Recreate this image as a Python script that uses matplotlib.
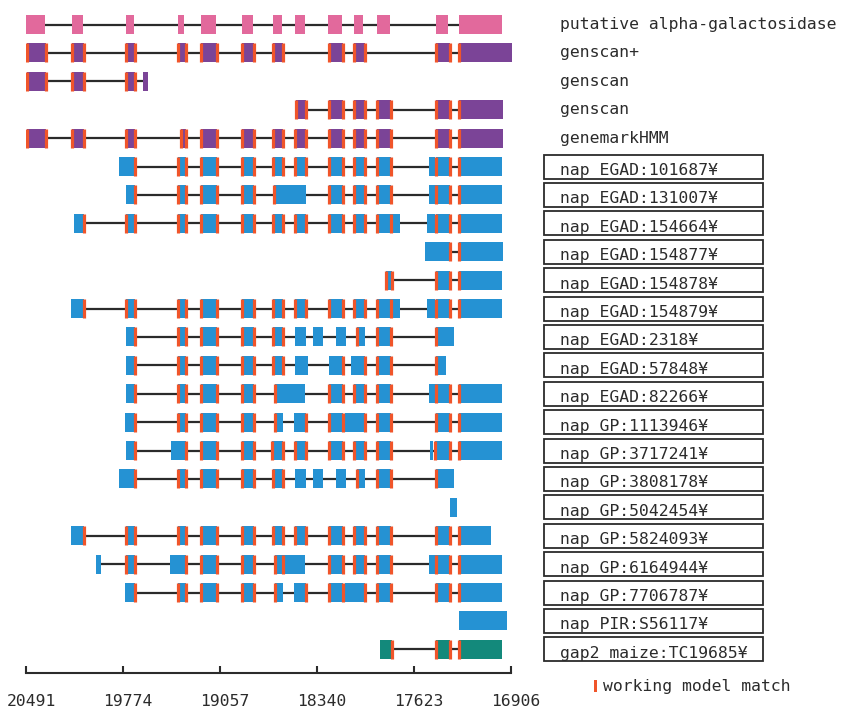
import matplotlib.pyplot as plt
from matplotlib.patches import Rectangle
from matplotlib import transforms

# track labels, top to bottom
track_names = [
    "putative alpha-galactosidase", "genscan+", "genscan", "genscan", "genemarkHMM",
    "nap EGAD:101687¥", "nap EGAD:131007¥", "nap EGAD:154664¥", "nap EGAD:154877¥",
    "nap EGAD:154878¥", "nap EGAD:154879¥", "nap EGAD:2318¥", "nap EGAD:57848¥",
    "nap EGAD:82266¥", "nap GP:1113946¥", "nap GP:3717241¥", "nap GP:3808178¥",
    "nap GP:5042454¥", "nap GP:5824093¥", "nap GP:6164944¥", "nap GP:7706787¥",
    "nap PIR:S56117¥", "gap2 maize:TC19685¥",
]
track_kinds = ["model"] + ["pred"] * 4 + ["est"] * 17 + ["maize"]

# exons as (start bp, end bp, working-model match at left/right edge)
exons = [
    [(20492, 20347, ""), (20149, 20073, ""), (19754, 19690, ""), (19367, 19322, ""),
     (19194, 19085, ""), (18894, 18812, ""), (18664, 18601, ""), (18502, 18430, ""),
     (18257, 18155, ""), (18069, 17998, ""), (17896, 17799, ""), (17463, 17369, ""),
     (17290, 16972, "")],
    [(20484, 20340, "lr"), (20150, 20065, "lr"), (19755, 19685, "lr"), (19365, 19310, "lr"),
     (19195, 19080, "lr"), (18895, 18805, "lr"), (18665, 18595, "lr"), (18250, 18150, "lr"),
     (18070, 17985, "lr"), (17460, 17360, "lr"), (17290, 16896, "l")],
    [(20484, 20340, "lr"), (20150, 20065, "lr"), (19755, 19685, "lr"), (19627, 19589, "")],
    [(18494, 18423, "lr"), (18250, 18150, "lr"), (18070, 17985, "lr"), (17895, 17795, "lr"),
     (17460, 17360, "lr"), (17290, 16962, "l")],
    [(20484, 20340, "lr"), (20150, 20065, "lr"), (19755, 19685, "lr"), (19342, 19310, "lr"),
     (19195, 19080, "lr"), (18895, 18805, "lr"), (18665, 18595, "lr"), (18500, 18425, "lr"),
     (18250, 18150, "lr"), (18070, 17985, "lr"), (17895, 17795, "lr"), (17460, 17360, "lr"),
     (17290, 16965, "l")],
    # nap EGAD:101687
    [(19800, 19685, "r"), (19365, 19310, "lr"), (19195, 19080, "lr"), (18895, 18805, "lr"),
     (18665, 18595, "lr"), (18500, 18425, "lr"), (18250, 18150, "lr"), (18070, 17985, "lr"),
     (17895, 17795, "lr"), (17514, 17471, ""), (17460, 17360, "lr"), (17290, 16974, "l")],
    # nap EGAD:131007
    [(19755, 19685, "r"), (19365, 19310, "lr"), (19195, 19080, "lr"), (18895, 18805, "lr"),
     (18659, 18418, "l"), (18250, 18150, "lr"), (18070, 17985, "lr"), (17895, 17795, "lr"),
     (17514, 17460, ""), (17460, 17360, "lr"), (17290, 16974, "l")],
    # nap EGAD:154664
    [(20136, 20059, "r"), (19755, 19685, "lr"), (19365, 19310, "lr"), (19195, 19080, "lr"),
     (18895, 18805, "lr"), (18665, 18595, "lr"), (18500, 18425, "lr"), (18250, 18150, "lr"),
     (18070, 17985, "lr"), (17895, 17795, "lr"), (17795, 17730, ""), (17527, 17471, ""),
     (17460, 17360, "lr"), (17290, 16974, "l")],
    # nap EGAD:154877
    [(17539, 17360, "r"), (17290, 16966, "l")],
    # nap EGAD:154878
    [(17832, 17786, "lr"), (17460, 17360, "lr"), (17290, 16974, "l")],
    # nap EGAD:154879
    [(20161, 20059, "r"), (19755, 19685, "lr"), (19365, 19310, "lr"), (19195, 19080, "lr"),
     (18895, 18805, "lr"), (18665, 18595, "lr"), (18500, 18425, "lr"), (18250, 18150, "lr"),
     (18070, 17985, "lr"), (17895, 17795, "lr"), (17795, 17730, ""), (17527, 17471, ""),
     (17460, 17360, "lr"), (17290, 16974, "l")],
    # nap EGAD:2318
    [(19755, 19685, "r"), (19365, 19310, "lr"), (19195, 19080, "lr"), (18895, 18805, "lr"),
     (18665, 18595, "lr"), (18502, 18420, ""), (18367, 18296, ""), (18202, 18126, ""),
     (18041, 17985, "l"), (17895, 17795, "lr"), (17460, 17328, "l")],
    # nap EGAD:57848
    [(19755, 19685, "r"), (19365, 19310, "lr"), (19195, 19080, "lr"), (18895, 18805, "lr"),
     (18665, 18595, "lr"), (18502, 18410, ""), (18250, 18150, "r"), (18087, 17985, "r"),
     (17895, 17795, "lr"), (17460, 17387, "l")],
    # nap EGAD:82266
    [(19755, 19685, "r"), (19365, 19310, "lr"), (19195, 19080, "lr"), (18895, 18805, "lr"),
     (18647, 18430, "l"), (18250, 18150, "lr"), (18070, 17985, "lr"), (17895, 17795, "lr"),
     (17514, 17460, ""), (17460, 17360, "lr"), (17290, 16974, "l")],
    # nap GP:1113946
    [(19761, 19685, "r"), (19365, 19310, "lr"), (19195, 19080, "lr"), (18895, 18805, "lr"),
     (18647, 18591, "l"), (18512, 18425, "r"), (18250, 18150, "lr"), (18133, 17985, "r"),
     (17895, 17795, "lr"), (17460, 17360, "lr"), (17290, 16972, "l")],
    # nap GP:3717241
    [(19755, 19685, "r"), (19418, 19310, "r"), (19195, 19080, "lr"), (18895, 18805, "lr"),
     (18673, 18595, "lr"), (18500, 18425, "lr"), (18250, 18150, "lr"), (18070, 17985, "lr"),
     (17895, 17795, "lr"), (17502, 17486, ""), (17468, 17360, "lr"), (17290, 16974, "l")],
    # nap GP:3808178
    [(19800, 19685, "r"), (19365, 19310, "lr"), (19195, 19080, "lr"), (18895, 18805, "lr"),
     (18665, 18595, "lr"), (18502, 18423, ""), (18367, 18296, ""), (18202, 18126, ""),
     (18041, 17985, "l"), (17895, 17795, "lr"), (17460, 17328, "l")],
    # nap GP:5042454
    [(17354, 17303, "")],
    # nap GP:5824093
    [(20161, 20059, "r"), (19755, 19685, "lr"), (19365, 19310, "lr"), (19195, 19080, "lr"),
     (18895, 18805, "lr"), (18665, 18595, "lr"), (18500, 18425, "lr"), (18250, 18150, "lr"),
     (18070, 17985, "lr"), (17895, 17795, "lr"), (17460, 17360, "lr"), (17290, 17056, "l")],
    # nap GP:6164944
    [(19971, 19940, ""), (19755, 19685, "lr"), (19423, 19310, "r"), (19195, 19080, "lr"),
     (18895, 18805, "lr"), (18647, 18595, "lr"), (18595, 18430, ""), (18250, 18150, "lr"),
     (18070, 17985, "lr"), (17895, 17795, "lr"), (17514, 17460, ""), (17460, 17360, "lr"),
     (17290, 16974, "l")],
    # nap GP:7706787
    [(19761, 19685, "r"), (19365, 19310, "lr"), (19195, 19080, "lr"), (18895, 18805, "lr"),
     (18647, 18591, "l"), (18512, 18425, "r"), (18250, 18150, "lr"), (18133, 17985, "r"),
     (17895, 17795, "lr"), (17460, 17360, "lr"), (17290, 16972, "l")],
    # nap PIR:S56117
    [(17290, 16936, "")],
    # gap2 maize:TC19685
    [(17871, 17786, "r"), (17460, 17360, "lr"), (17290, 16974, "l")],
]

axis_ticks = [20491, 19774, 19057, 18340, 17623, 16906]

kind_colors = {"model": "#e2699c", "pred": "#7b4497", "est": "#2592d3", "maize": "#13897b"}
match_color = "#f0552a"
ink = "#2b2b2b"
mono = "DejaVu Sans Mono"

W, H = 842, 709
fig = plt.figure(figsize=(W / 100, H / 100), dpi=100)
ax = fig.add_axes([26 / W, (H - 673) / H, 485 / W, 673 / H])
ax.set_xlim(axis_ticks[0], axis_ticks[-1])
ax.set_ylim((673 - 24.5) / 28.4, -24.5 / 28.4)

h = 0.67  # exon height in track units
for i, track in enumerate(exons):
    col = kind_colors[track_kinds[i]]
    lo = min(e for s, e, m in track)
    hi = max(s for s, e, m in track)
    ax.hlines(i, hi, lo, color=ink, lw=1.6, zorder=1)
    for s, e, m in track:
        ax.add_patch(Rectangle((e, i - h / 2), s - e, h, fc=col, ec="none",
                               zorder=2, clip_on=False))
        if "l" in m:
            ax.vlines(s, i - h / 2, i + h / 2, color=match_color, lw=2.3, zorder=3)
        if "r" in m:
            ax.vlines(e, i - h / 2, i + h / 2, color=match_color, lw=2.3, zorder=3)

# labels on the right
blend = transforms.blended_transform_factory(fig.transFigure, ax.transData)
for i, name in enumerate(track_names):
    if track_kinds[i] in ("est", "maize"):
        ax.add_patch(Rectangle((544 / W, i - 0.42), 219 / W, 0.845, transform=blend,
                               fill=False, ec=ink, lw=1.3, clip_on=False))
        ax.text(560 / W, i + 0.14, name, transform=blend, family=mono, fontsize=11.8,
                color=ink, va="center", ha="left")
    else:
        ax.text(560 / W, i, name, transform=blend, family=mono, fontsize=11.8,
                color=ink, va="center", ha="left")

# coordinate axis
for side in ["top", "left", "right"]:
    ax.spines[side].set_visible(False)
ax.spines["bottom"].set_color(ink)
ax.spines["bottom"].set_linewidth(1.5)
ax.set_yticks([])
ax.set_xticks(axis_ticks)
ax.set_xticklabels([str(t) for t in axis_ticks], family=mono, fontsize=11.8, color=ink)
ax.tick_params(axis="x", direction="in", length=5, width=1.5, color=ink, pad=15)
shift = transforms.ScaledTranslation(5 / 100, 0, fig.dpi_scale_trans)
for lbl in ax.get_xticklabels():
    lbl.set_transform(lbl.get_transform() + shift)

# legend
fig.patches.append(Rectangle((594 / W, (H - 692) / H), 2.5 / W, 12 / H,
                             transform=fig.transFigure, fc=match_color, ec="none"))
fig.text(603 / W, (H - 686) / H, "working model match", family=mono, fontsize=11.8,
         color=ink, va="center", ha="left")

fig.savefig("out.png", dpi=100, facecolor="white")
